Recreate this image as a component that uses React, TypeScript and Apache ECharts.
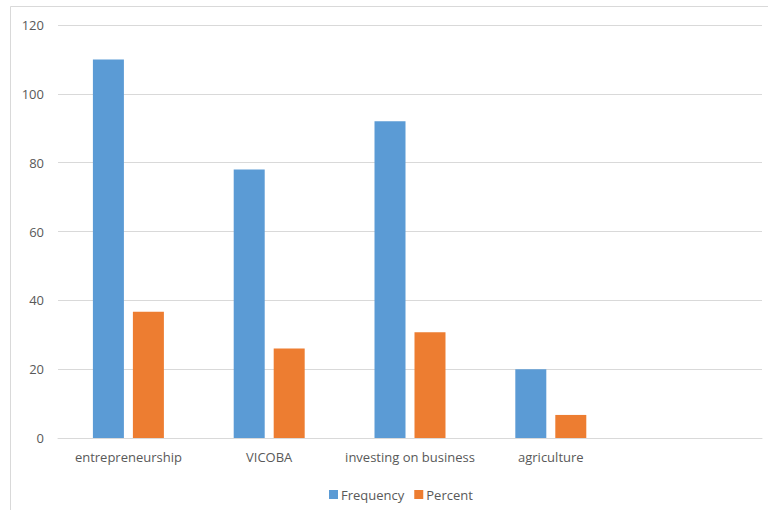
import React, { useEffect, useRef } from "react";
import * as echarts from "echarts";

const categories = ["entrepreneurship", "VICOBA", "investing on business", "agriculture", ""];
const frequency = [110, 78, 92, 20, null];
const percent = [36.7, 26, 30.7, 6.7, null];
const yTicks = { min: 0, max: 120, interval: 20 };

const FONT = "'Open Sans', 'Liberation Sans', sans-serif";
const TEXT = "#595959";

export default function App() {
  const ref = useRef<HTMLDivElement>(null);

  useEffect(() => {
    if (!ref.current) return;
    const chart = echarts.init(ref.current, undefined, { renderer: "svg" });
    chart.setOption({
      animation: false,
      backgroundColor: "#ffffff",
      textStyle: { fontFamily: FONT },
      graphic: [
        {
          type: "rect",
          shape: { x: 10.5, y: 6.5, width: 780, height: 520 },
          style: { fill: "none", stroke: "#D9D9D9", lineWidth: 1 },
          silent: true,
        },
      ],
      grid: { left: 58, right: 6, top: 25, bottom: 72, containLabel: false },
      legend: {
        left: 324,
        top: 483,
        itemWidth: 9,
        itemHeight: 9,
        itemGap: 10,
        icon: "rect",
        textStyle: { color: TEXT, fontSize: 13, fontFamily: FONT, padding: [0, 0, 0, -2] },
        data: ["Frequency", "Percent"],
      },
      xAxis: {
        type: "category",
        data: categories,
        axisLine: { lineStyle: { color: "#D9D9D9", width: 1 } },
        axisTick: { show: false },
        axisLabel: { color: TEXT, fontSize: 13, margin: 12, interval: 0 },
      },
      yAxis: {
        type: "value",
        min: yTicks.min,
        max: yTicks.max,
        interval: yTicks.interval,
        axisLine: { show: false },
        axisTick: { show: false },
        axisLabel: { color: TEXT, fontSize: 13, margin: 14 },
        splitLine: { lineStyle: { color: "#D9D9D9", width: 1 } },
      },
      series: [
        {
          name: "Frequency",
          type: "bar",
          data: frequency,
          barWidth: 31,
          barGap: "29%",
          itemStyle: { color: "#5B9BD5" },
        },
        {
          name: "Percent",
          type: "bar",
          data: percent,
          barWidth: 31,
          itemStyle: { color: "#ED7D31" },
        },
      ],
    });
    return () => chart.dispose();
  }, []);

  return (
    <div
      ref={ref}
      style={{ position: "fixed", left: 0, top: 0, width: 768, height: 510 }}
    />
  );
}
